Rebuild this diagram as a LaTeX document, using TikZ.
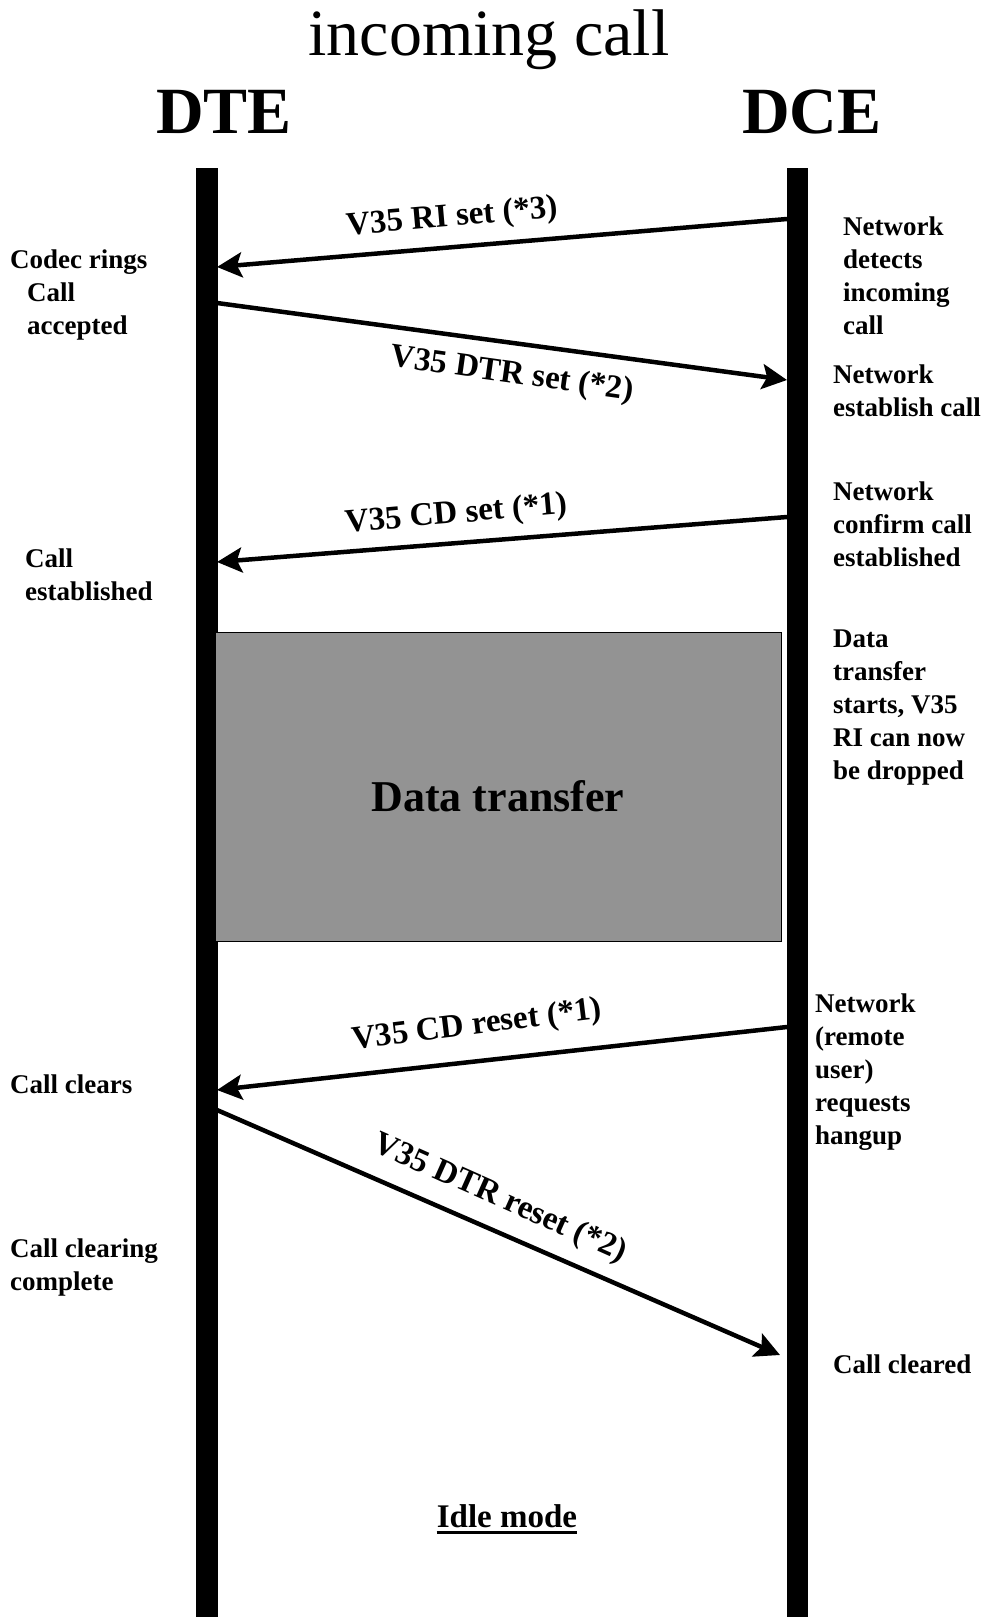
\documentclass[tikz,border=0pt]{standalone}
\usepackage{fontspec}
\setmainfont{Liberation Serif}
\usetikzlibrary{arrows.meta}
\definecolor{boxgray}{RGB}{147,147,147}
\begin{document}
\begin{tikzpicture}[x=1pt,y=-1pt,
  side/.style={font=\bfseries\fontsize{27}{33}\selectfont, inner sep=0pt, anchor=base west, align=left},
  msg/.style={font=\bfseries\fontsize{33}{40}\selectfont, inner sep=0pt},
  head/.style={font=\bfseries\fontsize{66}{80}\selectfont, inner sep=0pt, anchor=base},
  sig/.style={line width=4.5pt, -{Stealth[length=25pt,width=25pt,inset=5pt]}}]
\useasboundingbox (0,0) rectangle (988,1617);
% titles
\node[font=\fontsize{66}{80}\selectfont, inner sep=0pt, anchor=base] (title) at (489,55) {incoming call};
\node[head] (dte) at (224,133) {DTE};
\node[head] (dce) at (812,133) {DCE};
% lifelines
\fill (196,168) rectangle (218,1617);
\fill (787,168) rectangle (808,1617);
% endpoints
\coordinate (r1) at (787,219);  \coordinate (l1) at (217,267);
\coordinate (l2) at (217,303);  \coordinate (r2) at (787,380);
\coordinate (r3) at (787,517);  \coordinate (l3) at (217,562);
\coordinate (r5) at (787,1027); \coordinate (l5) at (217,1090);
\coordinate (l6) at (217,1110); \coordinate (r6) at (780,1355);
% messages
\draw[sig] (r1) -- (l1);
\draw[sig] (l2) -- (r2);
\draw[sig] (r3) -- (l3);
\draw[sig] (r5) -- (l5);
\draw[sig] (l6) -- (r6);
\node[msg, rotate=5]   (m1) at (452,218) {V35 RI set (*3)};
\node[msg, rotate=-8]  (m2) at (512,375) {V35 DTR set (*2)};
\node[msg, rotate=5]   (m3) at (456,515) {V35 CD set (*1)};
\node[msg, rotate=7]   (m5) at (477,1026) {V35 CD reset (*1)};
\node[msg, rotate=-24] (m6) at (500,1199) {V35 DTR reset (*2)};
% data transfer
\node[draw, line width=1.2pt, fill=boxgray, inner sep=0pt, anchor=north west,
      minimum width=566pt, minimum height=309pt] (data) at (215,632) {};
\node[font=\bfseries\fontsize{44}{52}\selectfont, inner sep=0pt, anchor=base] (datalbl) at (498,811) {Data transfer};
% idle mode
\node[font=\bfseries\fontsize{33}{40}\selectfont, inner sep=0pt, anchor=base] (idle) at (507,1527) {Idle mode};
\draw[line width=3pt] ([yshift=-5pt]idle.base west) -- ([yshift=-5pt]idle.base east);
% left notes (base = baseline of last line)
\node[side] (n1) at (10,268) {Codec rings};
\node[side] (n2) at (27,334) {Call\\accepted};
\node[side] (n3) at (25,600) {Call\\established};
\node[side] (n4) at (10,1093) {Call clears};
\node[side] (n5) at (10,1290) {Call clearing\\complete};
% right notes
\node[side] (d1) at (843,334) {Network\\detects\\incoming\\call};
\node[side] (d2) at (833,416) {Network\\establish call};
\node[side] (d3) at (833,566) {Network\\confirm call\\established};
\node[side] (d4) at (833,779) {Data\\transfer\\starts, V35\\RI can now\\be dropped};
\node[side] (d5) at (815,1144) {Network\\(remote\\user)\\requests\\hangup};
\node[side] (d6) at (833,1373) {Call cleared};
\end{tikzpicture}
\end{document}
